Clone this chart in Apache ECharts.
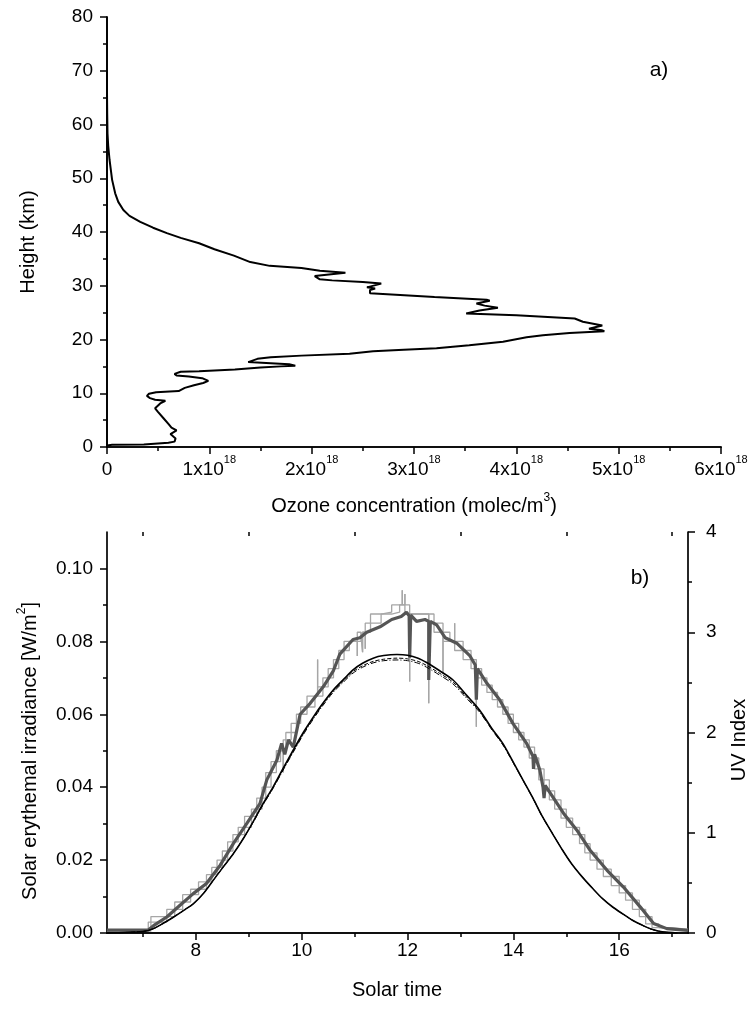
<!DOCTYPE html>
<html>
<head>
<meta charset="utf-8">
<script src="https://cdn.jsdelivr.net/npm/echarts@6/dist/echarts.min.js"></script>
<style>
  html, body { margin: 0; padding: 0; background: #fff; }
  #chart { width: 751px; height: 1028px; }
</style>
</head>
<body>
<div id="chart"></div>
<script>
// Panel a) ozone profile: concentration in units of 1e18 molec/m3, height in km
const ozoneConc = [0, 0.05, 0.36, 0.6, 0.66, 0.67, 0.62, 0.68, 0.63, 0.6, 0.55, 0.5, 0.47, 0.52, 0.57, 0.47, 0.42, 0.39, 0.41, 0.48,
  0.7, 0.76, 0.85, 0.94, 0.99, 0.93, 0.8, 0.68, 0.66, 0.72, 0.9, 1.25, 1.5, 1.7, 1.84, 1.78, 1.6, 1.38, 1.37, 1.47,
  1.6, 1.9, 2.37, 2.6, 2.9, 3.22, 3.54, 3.87, 4.1, 4.26, 4.52, 4.86, 4.84, 4.71, 4.84, 4.65, 4.57, 4.57, 4.0, 3.51,
  3.64, 3.82, 3.69, 3.61, 3.74, 3.71, 3.2, 2.57, 2.57, 2.62, 2.54, 2.68, 2.5, 2.2, 2.08, 2.03, 2.33, 2.08, 1.9, 1.59,
  1.4, 1.24, 1.05, 0.9, 0.72, 0.585, 0.45, 0.325, 0.22, 0.16, 0.11, 0.08, 0.05, 0.025, 0.012, 0.005, 0.002, 0, 0];
const ozoneHeight = [0.3, 0.4, 0.45, 0.8, 1.0, 1.6, 2.4, 3.1, 3.6, 4.3, 5.4, 6.5, 7.2, 8.1, 8.6, 8.8, 9.1, 9.5, 9.9, 10.2,
  10.4, 11.0, 11.5, 11.9, 12.3, 12.8, 13.1, 13.3, 13.6, 14.0, 14.1, 14.4, 14.8, 15.0, 15.1, 15.4, 15.6, 15.8, 16.1, 16.4,
  16.7, 17.0, 17.35, 17.8, 18.1, 18.35, 18.95, 19.6, 20.4, 20.8, 21.2, 21.55, 21.7, 22.0, 22.6, 23.3, 23.9, 24.1, 24.5, 24.85,
  25.4, 25.9, 26.3, 26.7, 27.2, 27.4, 27.9, 28.6, 29.2, 29.5, 29.7, 30.4, 30.7, 31.0, 31.2, 31.8, 32.4, 32.8, 33.3, 33.7,
  34.4, 35.6, 36.8, 37.9, 38.9, 39.8, 40.8, 41.9, 43.0, 44.1, 45.6, 47.2, 49.7, 53.4, 56, 58.3, 62, 66, 70];

// Panel b) light grey measured irradiance (stepped, W/m2)
const greyTime = [6.32, 7.1, 7.15, 7.45, 7.6, 7.75, 7.9, 8.05, 8.2, 8.3, 8.4, 8.5, 8.6, 8.7, 8.8, 8.92, 9.05, 9.15, 9.25, 9.32,
  9.42, 9.52, 9.6, 9.65, 9.65, 9.65, 9.7, 9.8, 9.9, 9.98, 10.1, 10.25, 10.3, 10.3, 10.3, 10.4, 10.5, 10.6, 10.7, 10.8,
  10.9, 11.05, 11.05, 11.05, 11.12, 11.15, 11.15, 11.15, 11.2, 11.2, 11.2, 11.3, 11.5, 11.7, 11.85, 11.9, 11.9, 11.9, 11.95, 11.95,
  11.95, 12.04, 12.04, 12.04, 12.25, 12.4, 12.4, 12.4, 12.5, 12.67, 12.67, 12.67, 12.8, 12.89, 12.89, 12.89, 13.05, 13.2, 13.3, 13.3,
  13.3, 13.4, 13.5, 13.6, 13.7, 13.8, 13.9, 14.0, 14.1, 14.2, 14.3, 14.4, 14.48, 14.58, 14.68, 14.78, 14.9, 15.0, 15.12, 15.25,
  15.35, 15.45, 15.58, 15.7, 15.85, 16.0, 16.12, 16.25, 16.38, 16.5, 16.62, 16.75, 17.0, 17.3];
const greyIrr = [0.0005, 0.0005, 0.003, 0.0045, 0.0065, 0.0085, 0.0105, 0.012, 0.014, 0.016, 0.018, 0.020, 0.0225, 0.025, 0.027, 0.029, 0.032, 0.034, 0.037, 0.040,
  0.044, 0.047, 0.050, 0.050, 0.044, 0.050, 0.053, 0.055, 0.0575, 0.060, 0.062, 0.065, 0.065, 0.075, 0.065, 0.0675, 0.070, 0.0725, 0.075, 0.0775,
  0.080, 0.080, 0.076, 0.080, 0.0825, 0.0825, 0.077, 0.0825, 0.0825, 0.078, 0.0825, 0.085, 0.0875, 0.088, 0.090, 0.090, 0.094, 0.090, 0.090, 0.093,
  0.090, 0.0875, 0.069, 0.0875, 0.0875, 0.0875, 0.063, 0.0875, 0.085, 0.0825, 0.071, 0.0825, 0.080, 0.080, 0.085, 0.080, 0.0775, 0.075, 0.0725, 0.0566,
  0.0725, 0.070, 0.068, 0.066, 0.064, 0.062, 0.060, 0.0575, 0.055, 0.053, 0.051, 0.048, 0.045, 0.042, 0.039, 0.0365, 0.034, 0.0315, 0.029, 0.027,
  0.0245, 0.022, 0.020, 0.0175, 0.0155, 0.013, 0.011, 0.009, 0.0065, 0.0045, 0.0025, 0.0015, 0.001, 0.001];

// Panel b) dark grey measured irradiance
const darkTime = [6.32, 7.1, 7.2, 7.45, 7.7, 7.95, 8.2, 8.46, 8.71, 8.96, 9.21, 9.34, 9.53, 9.62, 9.68, 9.75, 9.84, 9.97, 10.16, 10.41,
  10.6, 10.72, 10.97, 11.1, 11.23, 11.48, 11.7, 11.88, 11.98, 12.03, 12.04, 12.06, 12.17, 12.33, 12.4, 12.4, 12.43, 12.55, 12.71, 12.93,
  13.18, 13.28, 13.3, 13.32, 13.5, 13.74, 13.99, 14.25, 14.37, 14.38, 14.4, 14.5, 14.56, 14.58, 14.6, 14.7, 14.95, 15.2, 15.45, 15.77,
  16.08, 16.4, 16.65, 16.9, 17.3];
const darkIrr = [0.0008, 0.0008, 0.002, 0.0044, 0.0076, 0.0108, 0.0136, 0.0186, 0.0246, 0.030, 0.0355, 0.042, 0.0474, 0.052, 0.049, 0.053, 0.051, 0.060, 0.063, 0.0676,
  0.072, 0.0765, 0.0805, 0.081, 0.0825, 0.084, 0.086, 0.0868, 0.088, 0.087, 0.0755, 0.0872, 0.0855, 0.086, 0.0855, 0.0694, 0.0855, 0.0845, 0.081, 0.0795,
  0.076, 0.0735, 0.064, 0.0725, 0.0685, 0.064, 0.0575, 0.052, 0.0485, 0.045, 0.049, 0.0447, 0.040, 0.037, 0.0405, 0.0383, 0.0328, 0.0282, 0.0227, 0.0172,
  0.0126, 0.0071, 0.0026, 0.0012, 0.0007];

// Panel b) modelled irradiance (solid, dashed, dash-dot)
const modelTime = [6.32, 7.0, 7.2, 7.4, 7.58, 7.8, 7.95, 8.15, 8.33, 8.5, 8.71, 8.9, 9.08, 9.25, 9.46, 9.65, 9.84, 10.03, 10.22, 10.4,
  10.6, 10.8, 10.97, 11.15, 11.35, 11.55, 11.8, 12.0, 12.2, 12.36, 12.6, 12.86, 13.1, 13.36, 13.6, 13.8, 14.0, 14.18, 14.37, 14.55,
  14.75, 14.93, 15.1, 15.3, 15.5, 15.68, 15.87, 16.06, 16.25, 16.44, 16.6, 16.81, 17.1];
const modelSolid = [0, 0.0004, 0.0012, 0.0028, 0.0044, 0.0065, 0.008, 0.011, 0.0145, 0.0178, 0.0218, 0.026, 0.0305, 0.035, 0.0401, 0.0452, 0.0502, 0.055, 0.0593, 0.063,
  0.0667, 0.0697, 0.0722, 0.074, 0.0754, 0.0761, 0.0764, 0.0762, 0.0754, 0.0742, 0.072, 0.0694, 0.0655, 0.0612, 0.056, 0.052, 0.0468, 0.042, 0.037, 0.0319,
  0.027, 0.0227, 0.019, 0.0154, 0.0122, 0.0095, 0.0072, 0.0053, 0.0035, 0.0021, 0.0011, 0.0003, 0];
const modelDash = [0, 0.0004, 0.0012, 0.0028, 0.0044, 0.0065, 0.008, 0.011, 0.0145, 0.0178, 0.0218, 0.026, 0.0304, 0.0348, 0.0399, 0.0449, 0.0499, 0.0547, 0.059, 0.0627,
  0.0664, 0.0693, 0.0717, 0.0733, 0.0745, 0.0751, 0.0754, 0.0752, 0.0745, 0.0734, 0.0713, 0.0688, 0.065, 0.0609, 0.0558, 0.0518, 0.0467, 0.042, 0.037, 0.0319,
  0.027, 0.0227, 0.019, 0.0154, 0.0122, 0.0095, 0.0072, 0.0053, 0.0035, 0.0021, 0.0011, 0.0003, 0];
const modelDashDot = [0, 0.0004, 0.0012, 0.0028, 0.0044, 0.0065, 0.008, 0.011, 0.0145, 0.0178, 0.0218, 0.026, 0.0303, 0.0347, 0.0397, 0.0447, 0.0496, 0.0544, 0.0587, 0.0624,
  0.0661, 0.069, 0.0713, 0.0729, 0.0741, 0.0747, 0.0749, 0.0747, 0.074, 0.0729, 0.0708, 0.0683, 0.0646, 0.0606, 0.0556, 0.0516, 0.0466, 0.0419, 0.0369, 0.0318,
  0.027, 0.0227, 0.019, 0.0154, 0.0122, 0.0095, 0.0072, 0.0053, 0.0035, 0.0021, 0.0011, 0.0003, 0];

// tick values
const timeMajor = [8, 10, 12, 14, 16];
const timeMinor = [7, 9, 11, 13, 15, 17];
const irrMajor = [0, 0.02, 0.04, 0.06, 0.08, 0.10];
const irrMinor = [0.01, 0.03, 0.05, 0.07, 0.09];

const FONT = '"Liberation Sans", Arial, sans-serif';
const zip = (a, b) => a.map((v, i) => [v, b[i]]);

const axLine = { show: true, lineStyle: { color: '#000', width: 1.7 } };
const tick = (inside, len) => ({ show: true, inside: inside, length: len, lineStyle: { color: '#000', width: 1.5 } });
const minor = (inside, n) => ({ show: true, splitNumber: n, length: 4, lineStyle: { color: '#000', width: 1.5 } });
const label = (extra) => Object.assign({ color: '#000', fontFamily: FONT, fontSize: 19, margin: 14,
  showMinLabel: true, showMaxLabel: true, hideOverlap: false }, extra);
const noLabel = { show: false };
const noSplit = { show: false };

const chart = echarts.init(document.getElementById('chart'), null, { renderer: 'canvas' });

const supRich = {
  m: { fontFamily: FONT, fontSize: 19, color: '#000', lineHeight: 25, verticalAlign: 'bottom' },
  s: { fontFamily: FONT, fontSize: 11, color: '#000', verticalAlign: 'top' }
};
const titleRich = {
  m: { font: '20px ' + FONT, fill: '#000', lineHeight: 24, verticalAlign: 'bottom' },
  s: { font: '12px ' + FONT, fill: '#000', verticalAlign: 'top' }
};

chart.setOption({
  animation: false,
  backgroundColor: '#fff',
  grid: [
    { left: 107, top: 17, width: 614, height: 430, containLabel: false, outerBoundsMode: 'none' },
    { left: 107, top: 532, width: 581, height: 401, containLabel: false, outerBoundsMode: 'none' }
  ],
  xAxis: [
    { gridIndex: 0, type: 'value', position: 'bottom', min: 0, max: 6, interval: 1,
      axisLine: axLine, axisTick: tick(false, 7), minorTick: minor(false, 2), splitLine: noSplit, minorSplitLine: noSplit,
      axisLabel: label({
        margin: 7,
        formatter: v => v === 0 ? '{m|0}' : '{m|' + v + 'x10}{s|18}',
        rich: supRich
      }) },
    { gridIndex: 0, type: 'value', position: 'top', min: 0, max: 6, interval: 1,
      axisLine: axLine, axisTick: tick(true, 7), minorTick: minor(true, 2), splitLine: noSplit, minorSplitLine: noSplit,
      axisLabel: noLabel },
    { gridIndex: 1, type: 'value', position: 'bottom', min: 6.32, max: 17.3,
      axisLine: axLine, axisTick: Object.assign(tick(false, 7), { customValues: timeMajor }), splitLine: noSplit,
      axisLabel: label({ margin: 8, customValues: timeMajor, formatter: v => String(v) }) },
    { gridIndex: 1, type: 'value', position: 'bottom', min: 6.32, max: 17.3,
      axisLine: { show: false }, axisTick: Object.assign(tick(false, 4), { customValues: timeMinor }), splitLine: noSplit,
      axisLabel: noLabel },
    { gridIndex: 1, type: 'value', position: 'top', min: 6.32, max: 17.3,
      axisLine: axLine, axisTick: Object.assign(tick(true, 7), { customValues: timeMajor }), splitLine: noSplit,
      axisLabel: noLabel },
    { gridIndex: 1, type: 'value', position: 'top', min: 6.32, max: 17.3,
      axisLine: { show: false }, axisTick: Object.assign(tick(true, 4), { customValues: timeMinor }), splitLine: noSplit,
      axisLabel: noLabel }
  ],
  yAxis: [
    { gridIndex: 0, type: 'value', position: 'left', min: 0, max: 80, interval: 10,
      axisLine: axLine, axisTick: tick(false, 7), minorTick: minor(false, 2), splitLine: noSplit, minorSplitLine: noSplit,
      axisLabel: label({}) },
    { gridIndex: 0, type: 'value', position: 'right', min: 0, max: 80, interval: 10,
      axisLine: axLine, axisTick: tick(true, 7), minorTick: minor(true, 2), splitLine: noSplit, minorSplitLine: noSplit,
      axisLabel: noLabel },
    { gridIndex: 1, type: 'value', position: 'left', min: 0, max: 0.11,
      axisLine: axLine, axisTick: Object.assign(tick(false, 7), { customValues: irrMajor }), splitLine: noSplit,
      axisLabel: label({ customValues: irrMajor, formatter: v => v.toFixed(2) }) },
    { gridIndex: 1, type: 'value', position: 'left', min: 0, max: 0.11,
      axisLine: { show: false }, axisTick: Object.assign(tick(false, 4), { customValues: irrMinor }), splitLine: noSplit,
      axisLabel: noLabel },
    { gridIndex: 1, type: 'value', position: 'right', min: 0, max: 4, interval: 1,
      axisLine: axLine, axisTick: tick(false, 7), minorTick: minor(false, 2), splitLine: noSplit, minorSplitLine: noSplit,
      axisLabel: label({ margin: 18 }) }
  ],
  graphic: [
    { type: 'text', x: 28, y: 242, rotation: Math.PI / 2,
      style: { text: 'Height (km)', font: '20px ' + FONT, fill: '#000', align: 'center', verticalAlign: 'middle' } },
    { type: 'text', x: 414, y: 504,
      style: { text: '{m|Ozone concentration (molec/m}{s|3}{m|)}', align: 'center', verticalAlign: 'middle', rich: titleRich } },
    { type: 'text', x: 659, y: 70,
      style: { text: 'a)', font: '21px ' + FONT, fill: '#000', align: 'center', verticalAlign: 'middle' } },
    { type: 'text', x: 28, y: 751, rotation: Math.PI / 2,
      style: { text: '{m|Solar erythemal irradiance [W/m}{s|2}{m|]}', align: 'center', verticalAlign: 'middle', rich: titleRich } },
    { type: 'text', x: 739, y: 740, rotation: Math.PI / 2,
      style: { text: 'UV Index', font: '20px ' + FONT, fill: '#000', align: 'center', verticalAlign: 'middle' } },
    { type: 'text', x: 397, y: 990,
      style: { text: 'Solar time', font: '20px ' + FONT, fill: '#000', align: 'center', verticalAlign: 'middle' } },
    { type: 'text', x: 640, y: 578,
      style: { text: 'b)', font: '21px ' + FONT, fill: '#000', align: 'center', verticalAlign: 'middle' } }
  ],
  series: [
    { type: 'line', xAxisIndex: 0, yAxisIndex: 0, data: zip(ozoneConc, ozoneHeight), showSymbol: false,
      lineStyle: { color: '#000', width: 2 }, z: 3 },
    { type: 'line', xAxisIndex: 2, yAxisIndex: 2, data: zip(greyTime, greyIrr), step: 'start', showSymbol: false,
      lineStyle: { color: '#a6a6a6', width: 1.3 }, z: 2 },
    { type: 'line', xAxisIndex: 2, yAxisIndex: 2, data: zip(greyTime, greyIrr), step: 'end', showSymbol: false,
      lineStyle: { color: '#a6a6a6', width: 1.3 }, z: 2 },
    { type: 'line', xAxisIndex: 2, yAxisIndex: 2, data: zip(darkTime, darkIrr), showSymbol: false,
      lineStyle: { color: '#555555', width: 3.2 }, z: 3 },
    { type: 'line', xAxisIndex: 2, yAxisIndex: 2, data: zip(modelTime, modelDashDot), showSymbol: false, smooth: 0.3,
      lineStyle: { color: '#000', width: 1, type: [6, 2, 1, 2] }, z: 4 },
    { type: 'line', xAxisIndex: 2, yAxisIndex: 2, data: zip(modelTime, modelDash), showSymbol: false, smooth: 0.3,
      lineStyle: { color: '#000', width: 1, type: [4, 2] }, z: 4 },
    { type: 'line', xAxisIndex: 2, yAxisIndex: 2, data: zip(modelTime, modelSolid), showSymbol: false, smooth: 0.3,
      lineStyle: { color: '#000', width: 1.6 }, z: 5 }
  ]
});
</script>
</body>
</html>
